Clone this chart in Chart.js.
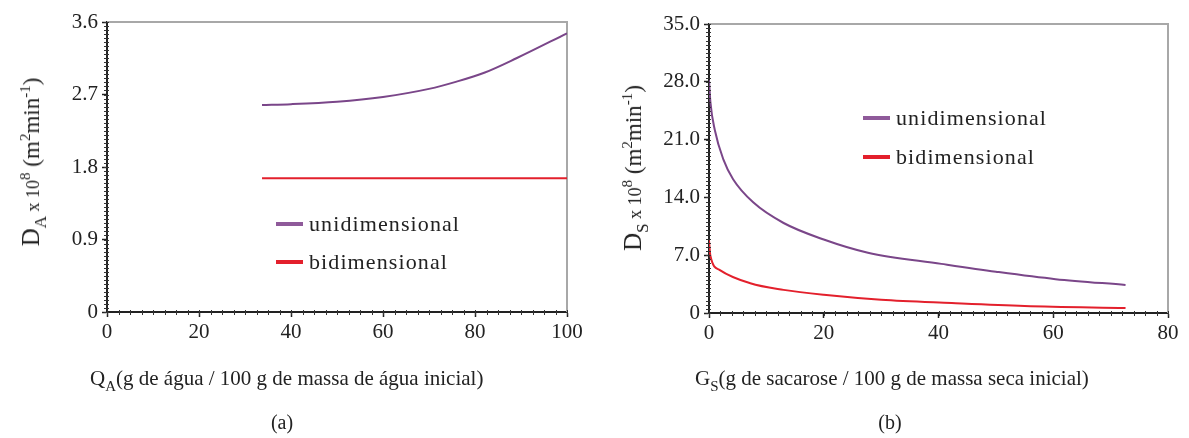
<!DOCTYPE html>
<html>
<head>
<meta charset="utf-8">
<script src="https://cdn.jsdelivr.net/npm/chart.js@4"></script>
<style>
  body { margin: 0; background: #fff; width: 1189px; height: 438px; position: relative; overflow: hidden;
         font-family: "Liberation Serif", "Times New Roman", serif; color: #222; }
  canvas { position: absolute; top: 0; }
  .t { position: absolute; white-space: nowrap; }
  .xt { font-size: 21px; }
  .xt sub { font-size: 15px; vertical-align: -6px; }
  .yt { font-size: 23px; transform: translate(-50%, -50%) rotate(-90deg); }
  .yt .d { font-size: 25px; }
  .yt .s { font-size: 18px; }
  .yt sub { font-size: 17px; vertical-align: -7px; }
  .yt sup { font-size: 15px; vertical-align: 9px; }
  .leg { position: absolute; display: flex; align-items: center; font-size: 22px; letter-spacing: 1.1px; height: 30px; }
  .leg i { display: inline-block; width: 27px; height: 4px; margin-right: 6px; }
  .cap { font-size: 20px; transform: translateX(-50%); }
</style>
</head>
<body>
<canvas id="graficoA" width="590" height="438" style="left:0"></canvas>
<canvas id="graficoB" width="599" height="438" style="left:590px"></canvas>

<div class="t yt" style="left:34px; top:162px"><span class="d">D</span><sub>A</sub><span class="s"> x 10</span><sup>8</sup> (m<sup>2</sup>min<sup>-1</sup>)</div>
<div class="t yt" style="left:636px; top:168px"><span class="d">D</span><sub>S</sub><span class="s"> x 10</span><sup>8</sup> (m<sup>2</sup>min<sup>-1</sup>)</div>

<div class="t xt" style="left:90px; top:366px">Q<sub>A</sub>(g de água / 100 g de massa de água inicial)</div>
<div class="t xt" style="left:695px; top:366px">G<sub>S</sub>(g de sacarose / 100 g de massa seca inicial)</div>

<div class="t cap" style="left:282px; top:411px">(a)</div>
<div class="t cap" style="left:890px; top:411px">(b)</div>

<div class="leg" style="left:276px; top:209px"><i style="background:#8f5a9a"></i>unidimensional</div>
<div class="leg" style="left:276px; top:247px"><i style="background:#e3202c"></i>bidimensional</div>
<div class="leg" style="left:863px; top:103px"><i style="background:#8f5a9a"></i>unidimensional</div>
<div class="leg" style="left:863px; top:142px"><i style="background:#e3202c"></i>bidimensional</div>

<script>
// ---- datos (a): difusividad del agua
const xTicksA = [0, 20, 40, 60, 80, 100];
const yTicksA = [0, 0.9, 1.8, 2.7, 3.6];
const yLabelsA = ['0', '0.9', '1.8', '2.7', '3.6'];
const qA_uni = [33.7, 40, 50, 60, 70, 76, 82, 89, 100];
const dA_uni = [2.57, 2.58, 2.61, 2.67, 2.77, 2.86, 2.97, 3.15, 3.46];
const qA_bi = [33.7, 100];
const dA_bi = [1.66, 1.66];

// ---- datos (b): difusividad de la sacarosa
const xTicksB = [0, 20, 40, 60, 80];
const yTicksB = [0, 7, 14, 21, 28, 35];
const yLabelsB = ['0', '7.0', '14.0', '21.0', '28.0', '35.0'];
const gS_uni = [0, 0.25, 1, 2.5, 4.2, 7.7, 13, 20, 27.7, 40.5, 50, 60.4, 72.6];
const dS_uni = [28.2, 25.5, 22.2, 18.6, 16.2, 13.4, 10.9, 8.9, 7.3, 5.95, 5.0, 4.1, 3.4];
const gS_bi = [0, 0.25, 1.9, 7.2, 13, 20, 30, 42.3, 55, 72.6];
const dS_bi = [8.8, 6.9, 5.2, 3.6, 2.8, 2.2, 1.6, 1.2, 0.85, 0.6];

const MORADO = '#7a4689';
const ROJO = '#e3202c';
const fuente = { family: '"Liberation Serif", "Times New Roman", serif', size: 21 };

// marco gris arriba/derecha + ticks menores en los ejes
const marcoPlugin = {
    id: 'marco',
    beforeDatasetsDraw(chart) {
        const { ctx, chartArea: a } = chart;
        ctx.save();
        ctx.strokeStyle = '#a8a8a8';
        ctx.lineWidth = 2;
        ctx.beginPath();
        ctx.moveTo(a.left, a.top);
        ctx.lineTo(a.right, a.top);
        ctx.lineTo(a.right, a.bottom);
        ctx.stroke();
        ctx.restore();
    },
    afterDraw(chart, args, opts) {
        const { ctx, chartArea: a } = chart;
        ctx.save();
        ctx.strokeStyle = '#333';
        ctx.lineWidth = 1;
        const sx = chart.scales.x, sy = chart.scales.y;
        for (let v = sx.min; v <= sx.max + 1e-9; v += opts.x) {
            const px = Math.round(sx.getPixelForValue(v)) + 0.5;
            ctx.beginPath(); ctx.moveTo(px, a.bottom - 2); ctx.lineTo(px, a.bottom + 3); ctx.stroke();
        }
        for (let v = sy.min; v <= sy.max + 1e-9; v += opts.y) {
            const py = Math.round(sy.getPixelForValue(v)) + 0.5;
            ctx.beginPath(); ctx.moveTo(a.left - 3, py); ctx.lineTo(a.left + 2, py); ctx.stroke();
        }
        ctx.restore();
    }
};

function serie(xs, ys, color) {
    return {
        data: xs.map((x, i) => ({ x: x, y: ys[i] })),
        borderColor: color,
        backgroundColor: color,
        borderWidth: 2,
        pointRadius: 0,
        cubicInterpolationMode: 'monotone'
    };
}

function crearGrafico(id, cfg) {
    const ctx = document.getElementById(id).getContext('2d');
    return new Chart(ctx, {
        type: 'line',
        data: { datasets: cfg.datasets },
        plugins: [marcoPlugin],
        options: {
            responsive: false,
            animation: false,
            layout: { padding: cfg.padding },
            plugins: {
                legend: { display: false },
                tooltip: { enabled: false },
                marco: { x: cfg.minorX, y: cfg.minorY }
            },
            scales: {
                x: {
                    type: 'linear',
                    min: cfg.xTicks[0],
                    max: cfg.xTicks[cfg.xTicks.length - 1],
                    afterBuildTicks: s => { s.ticks = cfg.xTicks.map(v => ({ value: v })); },
                    afterFit: s => { s.height = cfg.xHeight; },
                    grid: { drawOnChartArea: false, color: '#222', tickLength: 5, tickWidth: 1.5 },
                    border: { color: '#222', width: 2 },
                    ticks: { font: fuente, color: '#222', padding: 3, maxRotation: 0 }
                },
                y: {
                    type: 'linear',
                    min: cfg.yTicks[0],
                    max: cfg.yTicks[cfg.yTicks.length - 1],
                    afterBuildTicks: s => { s.ticks = cfg.yTicks.map(v => ({ value: v })); },
                    afterFit: s => { s.width = cfg.yWidth; },
                    grid: { drawOnChartArea: false, color: '#222', tickLength: 5, tickWidth: 1.5 },
                    border: { color: '#222', width: 2 },
                    ticks: {
                        font: fuente, color: '#222', padding: 4,
                        callback: (v) => cfg.yLabels[cfg.yTicks.indexOf(v)]
                    }
                }
            }
        }
    });
}

crearGrafico('graficoA', {
    datasets: [serie(qA_uni, dA_uni, MORADO), serie(qA_bi, dA_bi, ROJO)],
    xTicks: xTicksA, yTicks: yTicksA, yLabels: yLabelsA,
    padding: { left: 0, top: 22, right: 23, bottom: 0 },
    yWidth: 107, xHeight: 126, minorX: 2.5, minorY: 0.05
});

crearGrafico('graficoB', {
    datasets: [serie(gS_uni, dS_uni, MORADO), serie(gS_bi, dS_bi, ROJO)],
    xTicks: xTicksB, yTicks: yTicksB, yLabels: yLabelsB,
    padding: { left: 0, top: 24, right: 21, bottom: 0 },
    yWidth: 119, xHeight: 125, minorX: 2, minorY: 0.5
});
</script>
</body>
</html>
